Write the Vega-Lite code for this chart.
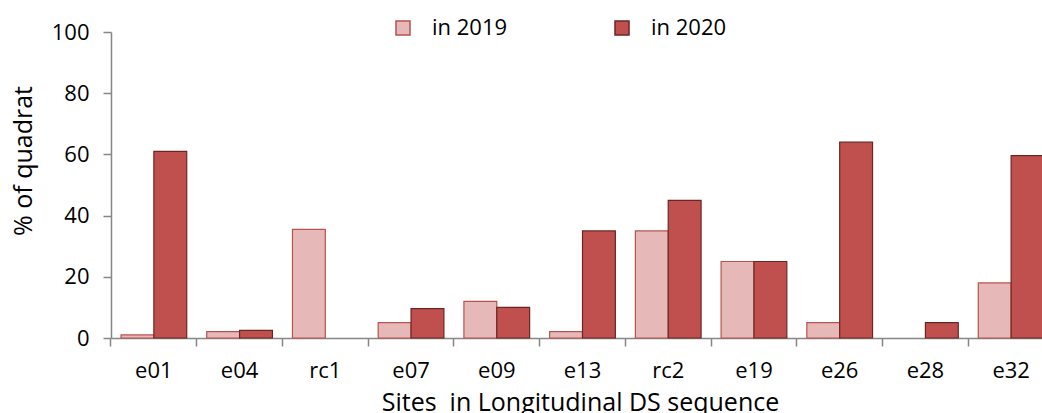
{
  "$schema": "https://vega.github.io/schema/vega-lite/v6.json",
  "autosize": {"type": "none"},
  "width": 931,
  "height": 306,
  "padding": {"left": 111, "top": 32, "right": 0, "bottom": 75},
  "background": "white",
  "config": {
    "view": {"stroke": null},
    "font": "Open Sans",
    "axis": {"labelFont": "Open Sans", "titleFont": "Open Sans", "labelColor": "black", "titleColor": "black", "titleFontWeight": "normal"},
    "legend": {"labelFont": "Open Sans"}
  },
  "data": {
    "values": [
      {"site": "e01", "year": "in 2019", "pct": 1},
      {"site": "e01", "year": "in 2020", "pct": 61},
      {"site": "e04", "year": "in 2019", "pct": 2.1},
      {"site": "e04", "year": "in 2020", "pct": 2.5},
      {"site": "rc1", "year": "in 2019", "pct": 35.5},
      {"site": "e07", "year": "in 2019", "pct": 5},
      {"site": "e07", "year": "in 2020", "pct": 9.6},
      {"site": "e09", "year": "in 2019", "pct": 12},
      {"site": "e09", "year": "in 2020", "pct": 10},
      {"site": "e13", "year": "in 2019", "pct": 2.1},
      {"site": "e13", "year": "in 2020", "pct": 35},
      {"site": "rc2", "year": "in 2019", "pct": 35},
      {"site": "rc2", "year": "in 2020", "pct": 45},
      {"site": "e19", "year": "in 2019", "pct": 25},
      {"site": "e19", "year": "in 2020", "pct": 25},
      {"site": "e26", "year": "in 2019", "pct": 5},
      {"site": "e26", "year": "in 2020", "pct": 64},
      {"site": "e28", "year": "in 2020", "pct": 5},
      {"site": "e32", "year": "in 2019", "pct": 18},
      {"site": "e32", "year": "in 2020", "pct": 59.6}
    ]
  },
  "mark": {"type": "bar", "strokeWidth": 1.2},
  "encoding": {
    "x": {
      "field": "site",
      "type": "nominal",
      "sort": ["e01", "e04", "rc1", "e07", "e09", "e13", "rc2", "e19", "e26", "e28", "e32"],
      "scale": {"range": [0, 943], "paddingInner": 0, "paddingOuter": 0},
      "axis": {
        "title": "Sites\u00a0\u00a0in Longitudinal DS sequence",
        "titleFontSize": 25,
        "titleX": 469,
        "titleY": 72,
        "titleAlign": "center",
        "titleBaseline": "alphabetic",
        "labelAngle": 0,
        "labelFontSize": 22,
        "labelPadding": 14,
        "bandPosition": 0,
        "tickSize": 8,
        "tickColor": "#868686",
        "domainColor": "#868686",
        "domainWidth": 1.5,
        "tickWidth": 1.5
      }
    },
    "y": {
      "field": "pct",
      "type": "quantitative",
      "scale": {"domain": [0, 100], "nice": false},
      "axis": {
        "title": "% of quadrat",
        "titleFontSize": 25,
        "titleAngle": -90,
        "titleX": -80,
        "titleY": 128.5,
        "titleAlign": "center",
        "titleBaseline": "alphabetic",
        "values": [0, 20, 40, 60, 80, 100],
        "labelFontSize": 22,
        "labelPadding": 14,
        "tickSize": 8,
        "tickColor": "#868686",
        "domainColor": "#868686",
        "domainWidth": 1.5,
        "tickWidth": 1.5,
        "grid": false
      }
    },
    "xOffset": {"field": "year", "type": "nominal", "scale": {"domain": ["in 2019", "in 2020"], "paddingInner": 0, "paddingOuter": 0.3045}},
    "color": {
      "field": "year",
      "type": "nominal",
      "scale": {"domain": ["in 2019", "in 2020"], "range": ["#E6B9B8", "#C0504D"]},
      "legend": {
        "title": null,
        "orient": "none",
        "legendX": 281,
        "legendY": -15,
        "direction": "horizontal",
        "columns": 2,
        "columnPadding": 103,
        "symbolType": "square",
        "symbolSize": 196,
        "symbolStrokeWidth": 1.5,
        "labelFontSize": 22,
        "labelOffset": 18,
        "padding": 0
      }
    },
    "stroke": {
      "field": "year",
      "type": "nominal",
      "scale": {"domain": ["in 2019", "in 2020"], "range": ["#B8534F", "#6B2624"]},
      "legend": null
    }
  }
}
